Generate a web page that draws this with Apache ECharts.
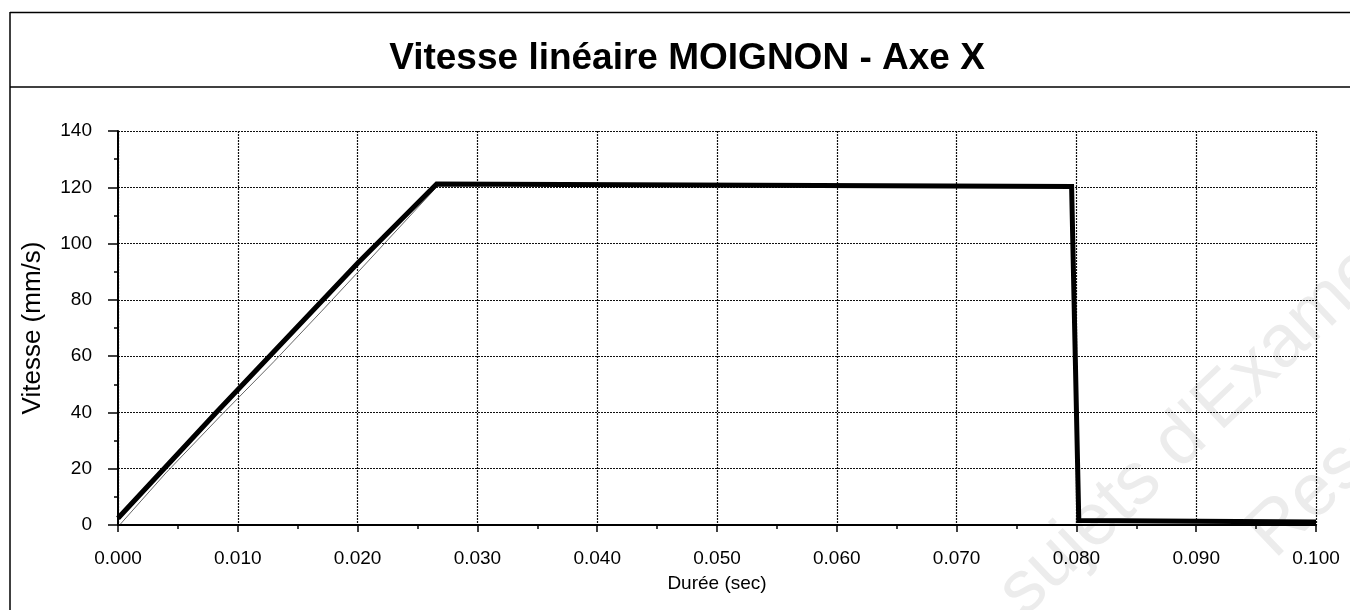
<!DOCTYPE html>
<html>
<head>
<meta charset="utf-8">
<script src="https://cdn.jsdelivr.net/npm/echarts@6/dist/echarts.min.js"></script>
<style>
html,body{margin:0;padding:0;background:#fff;}
#c{width:1350px;height:610px;}
</style>
</head>
<body>
<div id="c"></div>
<script>
// ---- data ----
var titleText = 'Vitesse linéaire MOIGNON - Axe X';
var xAxisName = 'Durée (sec)';
var yAxisName = 'Vitesse (mm/s)';
// main (thick) curve
var timeSec = [0, 0.0082, 0.020, 0.0266, 0.0796, 0.0802, 0.100];
var speed   = [2.4, 40, 93, 121.2, 120.3, 1.6, 1.1];
// thin measured curve
var measTime  = [0.0002, 0.004, 0.0085, 0.013, 0.017, 0.0205, 0.0268, 0.0797, 0.0803, 0.100];
var measSpeed = [0.3, 18.5, 38.5, 58, 76, 92, 121, 120, 1.3, 0.9];
var watermark1 = "sujets d'Examen";
var watermark2 = 'Ressources';

function pairs(xs, ys){ return xs.map(function(x,i){ return [x, ys[i]]; }); }

var FONT = '"Liberation Sans", Arial, Helvetica, sans-serif';
var chart = echarts.init(document.getElementById('c'), null, {renderer:'canvas'});
chart.setOption({
  animation: false,
  backgroundColor: '#fff',
  title: {
    text: titleText,
    left: 682, top: 35, textAlign: 'center',
    textStyle: {fontFamily: FONT, fontSize: 37, fontWeight: 'bold', color: '#000'}
  },
  graphic: [
    {type:'text', x:1036, y:630, rotation:0.76, z:0, silent:true,
     style:{text:watermark1, fontFamily:FONT, fontSize:74, fill:'#ececec', textAlign:'left', textVerticalAlign:'bottom'}},
    {type:'text', x:1286, y:572, rotation:0.76, z:0, silent:true,
     style:{text:watermark2, fontFamily:FONT, fontSize:74, fill:'#ececec', textAlign:'left', textVerticalAlign:'bottom'}},
    {type:'line', shape:{x1:10, y1:12.5, x2:1350, y2:12.5}, style:{stroke:'#000', lineWidth:1.5}, silent:true},
    {type:'line', shape:{x1:10, y1:87, x2:1350, y2:87}, style:{stroke:'#000', lineWidth:1.5}, silent:true},
    {type:'line', shape:{x1:10, y1:12, x2:10, y2:610}, style:{stroke:'#000', lineWidth:1.5}, silent:true}
  ],
  grid: {left:118, right:34, top:131, bottom:85, containLabel:false, outerBoundsMode:'none'},
  xAxis: {
    type:'value', min:0, max:0.1, interval:0.01,
    name: xAxisName, nameLocation:'middle', nameGap:49,
    nameTextStyle:{fontFamily:FONT, fontSize:19, color:'#000'},
    axisLine:{show:true, onZero:false, lineStyle:{color:'#000', width:2}},
    axisTick:{show:true, length:7, lineStyle:{color:'#000', width:1.5}},
    minorTick:{show:true, splitNumber:2, length:4, lineStyle:{color:'#000', width:1.5}},
    axisLabel:{margin:24, fontFamily:FONT, fontSize:19, color:'#000',
      formatter:function(v){ return v.toFixed(3); }},
    splitLine:{show:true, lineStyle:{color:'#111', width:1.2, type:[2,1]}}
  },
  yAxis: {
    type:'value', min:0, max:140, interval:20,
    name: yAxisName, nameLocation:'middle', nameGap:72, nameRotate:90,
    nameTextStyle:{fontFamily:FONT, fontSize:26, color:'#000'},
    axisLine:{show:true, onZero:false, lineStyle:{color:'#000', width:2}},
    axisTick:{show:true, length:10, lineStyle:{color:'#000', width:1.5}},
    minorTick:{show:true, splitNumber:2, length:4, lineStyle:{color:'#000', width:1.5}},
    axisLabel:{margin:26, fontFamily:FONT, fontSize:19, color:'#000'},
    splitLine:{show:true, lineStyle:{color:'#111', width:1.2, type:[2,1]}}
  },
  series: [
    {type:'line', name:'mesure', data:pairs(measTime, measSpeed), showSymbol:false, symbol:'none',
     z:2, lineStyle:{color:'#666', width:1}},
    {type:'line', name:'vitesse', data:pairs(timeSec, speed), showSymbol:false, symbol:'none',
     z:3, lineStyle:{color:'#000', width:5, join:'miter'}}
  ]
});
</script>
</body>
</html>
